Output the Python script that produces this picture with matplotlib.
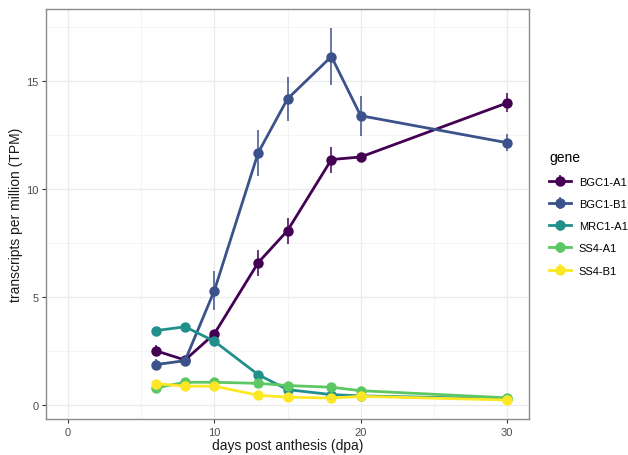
import matplotlib
matplotlib.use("Agg")
import matplotlib.pyplot as plt
import numpy as np

plt.rcParams['font.family'] = ['Liberation Sans', 'DejaVu Sans']

dpa = [6, 8, 10, 13, 15, 18, 20, 30]
genes = ["BGC1-A1", "BGC1-B1", "MRC1-A1", "SS4-A1", "SS4-B1"]
colors = ["#440154", "#3B528B", "#21908C", "#5DC863", "#FDE725"]

bgc1_a1 = [2.51, 2.08, 3.29, 6.59, 8.07, 11.36, 11.48, 13.98]
bgc1_a1_err = [0.25, 0.15, 0.2, 0.6, 0.6, 0.6, 0.12, 0.44]
bgc1_b1 = [1.87, 2.05, 5.29, 11.68, 14.17, 16.13, 13.39, 12.14]
bgc1_b1_err = [0.25, 0.12, 0.9, 1.06, 1.02, 1.33, 0.93, 0.4]
mrc1_a1 = [3.44, 3.62, 2.95, 1.40, 0.71, 0.48, 0.42, 0.28]
mrc1_a1_err = [0.1, 0.08, 0.1, 0.1, 0.05, 0.04, 0.04, 0.03]
ss4_a1 = [0.79, 1.05, 1.05, 1.0, 0.9, 0.82, 0.66, 0.33]
ss4_a1_err = [0.05, 0.05, 0.05, 0.05, 0.05, 0.05, 0.04, 0.03]
ss4_b1 = [0.99, 0.87, 0.87, 0.45, 0.36, 0.32, 0.40, 0.23]
ss4_b1_err = [0.05, 0.04, 0.04, 0.03, 0.03, 0.03, 0.03, 0.02]

values = [bgc1_a1, bgc1_b1, mrc1_a1, ss4_a1, ss4_b1]
errors = [bgc1_a1_err, bgc1_b1_err, mrc1_a1_err, ss4_a1_err, ss4_b1_err]

fig = plt.figure(figsize=(6.28, 4.56), dpi=100)
ax = fig.add_axes([46/628, 36/456, (529-46)/628, (420-10)/456])

handles = []
for g, c, v, e in zip(genes, colors, values, errors):
    h = ax.errorbar(dpa, v, yerr=e, fmt='-o', color=c, ecolor=c, lw=2.0,
                    elinewidth=1.1, capsize=0, markersize=7.5, markeredgewidth=0,
                    zorder=3, label=g)
    handles.append(h)

ax.set_xlim(-1.5, 31.5)
ax.set_ylim(-0.65, 18.33)
ax.set_xticks([0, 10, 20, 30])
ax.set_yticks([0, 5, 10, 15])
ax.set_xticks([5, 15, 25], minor=True)
ax.set_yticks([2.5, 7.5, 12.5, 17.5], minor=True)
ax.grid(True, which='major', color='#EBEBEB', lw=0.9)
ax.grid(True, which='minor', color='#F2F2F2', lw=0.6)
ax.set_axisbelow(True)
ax.tick_params(which='minor', length=0)
ax.tick_params(which='major', length=3, color='#333333', labelsize=8, labelcolor='#4D4D4D',
               width=0.8, pad=2.5)
for s in ax.spines.values():
    s.set_color('#8C8C8C')
    s.set_linewidth(1.0)
ax.set_xlabel("days post anthesis (dpa)", fontsize=10, color='#1A1A1A', labelpad=1)
ax.set_ylabel("transcripts per million (TPM)", fontsize=10, color='#1A1A1A', labelpad=2)

leg = fig.legend(handles, genes, title="gene", loc='upper left',
                 bbox_to_anchor=(545/628, 1-147/456),
                 frameon=False, fontsize=8, title_fontsize=10, handlelength=1.9,
                 handletextpad=0.75, labelspacing=1.1, borderaxespad=0)
leg._legend_box.align = "left"

fig.savefig("out.png", dpi=100)
